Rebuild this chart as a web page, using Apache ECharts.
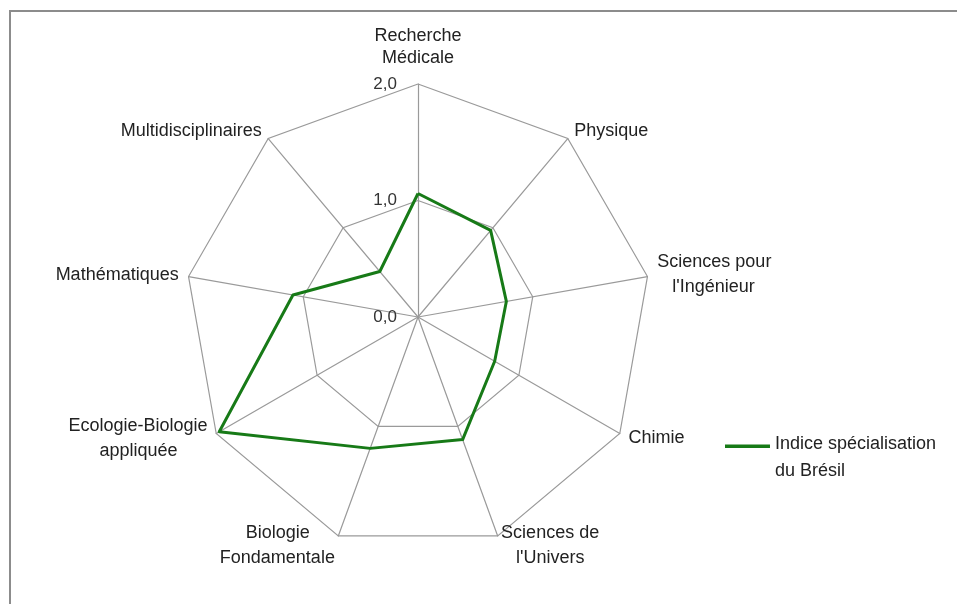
<!DOCTYPE html>
<html>
<head>
<meta charset="utf-8">
<script src="https://cdn.jsdelivr.net/npm/echarts@6/dist/echarts.min.js"></script>
<style>
html,body{margin:0;padding:0;background:#fff;}
#frame{position:absolute;left:9px;top:10px;right:0;bottom:0;border-top:2px solid #8c8c8c;border-left:2px solid #8c8c8c;}
#chart{position:absolute;left:0;top:0;width:957px;height:604px;}
</style>
</head>
<body>
<div id="frame"></div>
<div id="chart"></div>
<script>
// Categories in the reference's clockwise order, starting at the top
const categories = [
  "Recherche\nMédicale",
  "Physique",
  "Sciences pour\n   l'Ingénieur",
  "Chimie",
  "Sciences de\n   l'Univers",
  "Biologie     \nFondamentale",
  "Ecologie-Biologie\nappliquée      ",
  "Mathématiques",
  "Multidisciplinaires"
];
const seriesName = "Indice spécialisation\ndu Brésil";
const values = [1.06, 0.97, 0.77, 0.76, 1.12, 1.2, 1.97, 1.09, 0.51];
const axisMax = 2;

// ECharts radar runs counter-clockwise: keep the first, reverse the rest
const order = [0].concat(categories.map((_, i) => i).slice(1).reverse());
const libCategories = order.map(i => categories[i]);
const libValues = order.map(i => values[i]);

const chart = echarts.init(document.getElementById('chart'), null, {renderer: 'canvas'});
const fmt = v => Number(v).toFixed(1).replace('.', ',');
chart.setOption({
  backgroundColor: 'transparent',
  animation: false,
  legend: {
    left: 725,
    top: 431,
    padding: 0,
    orient: 'vertical',
    icon: 'path://M0,0h45v3.5h-45z M0,27h0.01v0.01h-0.01z',
    itemWidth: 45,
    itemHeight: 27,
    textStyle: {fontFamily: 'Liberation Sans', fontSize: 18, color: '#222', lineHeight: 27},
    data: [seriesName]
  },
  radar: {
    center: [418, 317],
    radius: 233,
    startAngle: 90,
    shape: 'polygon',
    splitNumber: 2,
    indicator: libCategories.map((c, i) => i === 0
      ? {name: c, min: 0, max: axisMax, axisLabel: {show: true}}
      : {name: c, min: 0, max: axisMax}),
    axisName: {
      color: '#222', fontFamily: 'Liberation Sans', fontSize: 18, lineHeight: 25,
      formatter: (name) => name === categories[0]
        ? name.split('\n').map((l, k, arr) => (k === arr.length - 1 ? '{b|' : '{a|') + l + '}').join('\n')
        : name,
      rich: {
        a: {color: '#222', fontFamily: 'Liberation Sans', fontSize: 18, lineHeight: 25},
        b: {color: '#222', fontFamily: 'Liberation Sans', fontSize: 18, lineHeight: 25, padding: [0, 0, 7, 0]}
      }
    },
    nameGap: 10,
    axisLine: {lineStyle: {color: '#9a9a9a', width: 1.2}},
    splitLine: {lineStyle: {color: '#9a9a9a', width: 1.2}},
    splitArea: {show: false},
    axisTick: {show: false},
    axisLabel: {show: false, formatter: fmt, color: '#333', fontFamily: 'Liberation Sans', fontSize: 17, margin: 21}
  },
  series: [{
    type: 'radar',
    name: seriesName,
    symbol: 'none',
    lineStyle: {color: '#177a17', width: 3},
    itemStyle: {color: '#177a17'},
    data: [{value: libValues, name: seriesName}]
  }]
});
</script>
</body>
</html>
